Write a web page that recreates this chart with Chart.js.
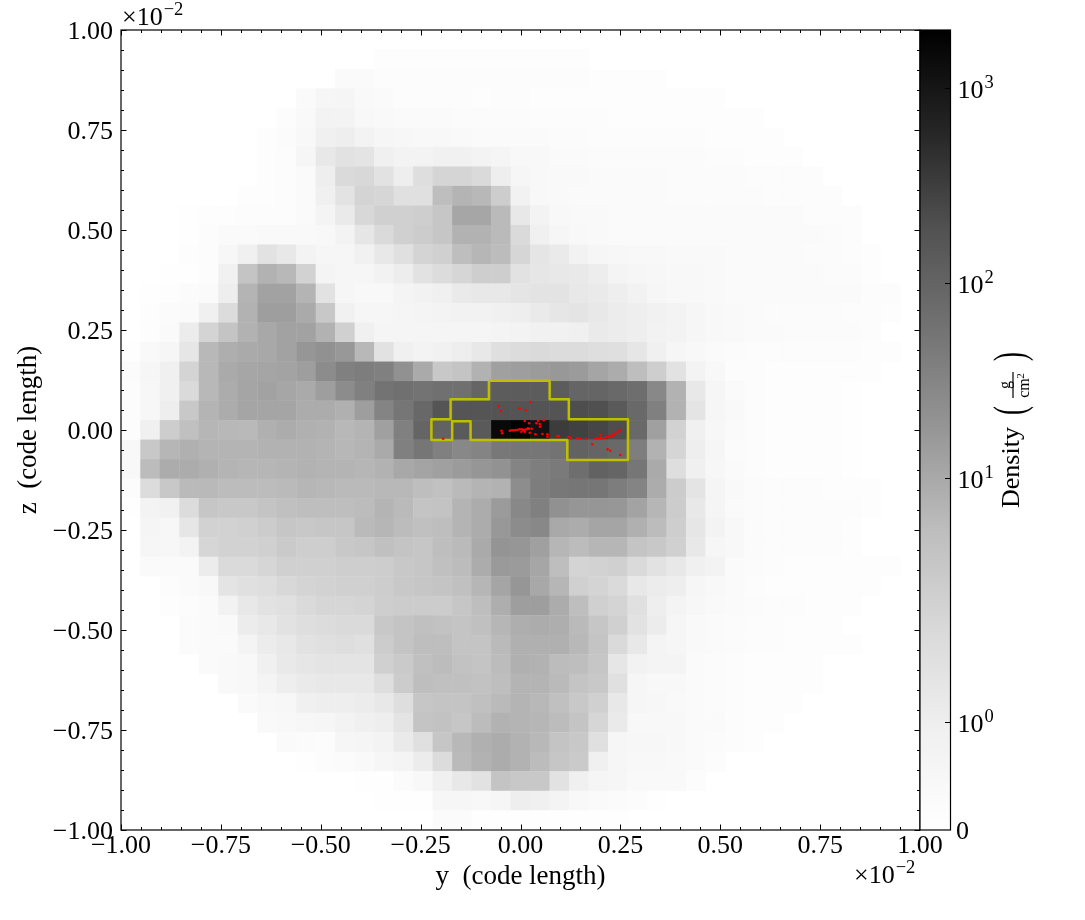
<!DOCTYPE html>
<html><head><meta charset="utf-8">
<script src="https://cdn.jsdelivr.net/npm/chart.js@4"></script>
<style>html,body{margin:0;padding:0;background:#fff}canvas{position:absolute;display:block}</style>
</head><body>
<canvas id="main" width="1085" height="920" style="left:0;top:0"></canvas>
<canvas id="bar" width="185" height="920" style="left:900px;top:0"></canvas>
<script>
const row00=[0,0,0,0,0,0,0,0,0,0, 0,0,0,0,0,0,0,0,0,0, 0,0,0,0,0,0,0,0,0,0, 0,0,0,0,0,0,0,0,0,0,0];
const row01=[0,0,0,0,0,0,0,0,0,0, 0,0,0,.12,.12,.12,.12,.12,.12,.12, .12,.12,.12,.12,0,0,0,0,0,0, 0,0,0,0,0,0,0,0,0,0,0];
const row02=[0,0,0,0,0,0,0,0,0,0, 0,.3,.3,.2,.2,.2,.2,.2,.2,.2, .2,.2,.2,.2,.15,.12,.12,.12,0,0, 0,0,0,0,0,0,0,0,0,0,0];
const row03=[0,0,0,0,0,0,0,0,0,.3, .56,.62,.37,.31,.2,.2,.2,.2,.15,.2, .2,.12,.12,.12,.12,.12,.12,.12,.12,.12, .12,0,0,0,0,0,0,0,0,0,0];
const row04=[0,0,0,0,0,0,0,0,.19,.4, .74,.74,.43,.37,.31,.31,.31,.25,.25,.25, .25,.2,.2,.2,.2,.15,.15,.15,.15,.15, .12,.12,.12,0,0,0,0,0,0,0,0];
const row05=[0,0,0,0,0,0,0,.12,.25,.43, .93,1,.74,.56,.5,.43,.43,.37,.31,.31, .31,.31,.25,.25,.2,.2,.2,.2,.2,.2, .15,.15,.15,.15,0,0,0,0,0,0,0];
const row06=[0,0,0,0,0,0,0,.12,.19,.56, 1.25,1.49,1.41,.93,.74,.74,.86,.86,.74,.62, .43,.43,.31,.31,.25,.25,.25,.25,.25,.25, .2,.2,.15,.15,.15,0,0,0,0,0,0];
const row07=[0,0,0,0,0,0,0,.12,.19,.31, 1,1.81,1.89,1.49,1,1.65,2,2,1.81,1, .56,.43,.37,.37,.31,.31,.31,.31,.25,.25, .25,.25,.19,.19,.19,.19,0,0,0,0,0];
const row08=[0,0,0,0,0,0,.12,.12,.19,.31, .93,1.45,2.04,1.95,1.57,1.57,5.2,7.1,6.3,2.8, .8,.43,.37,.31,.31,.31,.31,.31,.25,.25, .25,.25,.25,.19,.19,.19,.19,0,0,0,0];
const row09=[0,0,0,.06,.12,.12,.19,.19,.19,.31, .68,1.17,1.89,2.4,2.4,2.6,3.7,10.8,10.8,5.9, 1.25,.74,.43,.4,.37,.31,.31,.31,.31,.31, .31,.31,.3,.3,.3,.2,.2,.2,0,0,0];
const row10=[0,0,0,.06,.19,.31,.31,.37,.37,.37, .43,.74,1.33,1.81,2.4,2.87,3.7,7.5,7.5,5.9, 1.8,.93,.56,.43,.37,.31,.31,.31,.31,.31, .31,.31,.3,.3,.3,.3,.25,.2,0,0,0];
const row11=[0,0,0,.12,.19,.5,.93,1.49,1.25,.74, .56,.56,.86,1.25,1.57,2.04,2.4,5.2,6.6,5.5, 1.95,1.37,1.17,.8,.56,.5,.43,.43,.37,.37, .37,.31,.31,.31,.31,.25,.25,.19,.15,0,0];
const row12=[0,0,.06,.06,.19,.86,4.03,7.5,6.27,2.2, .68,.56,.56,.8,1.05,1.49,1.73,1.95,2.63,2.63, 1.49,1.33,1.25,1.2,1.05,.68,.56,.5,.43,.43, .37,.31,.31,.31,.31,.31,.25,.25,.15,0,0];
const row13=[0,.06,.12,.25,.31,1,7.1,12.3,12.3,7.1, 1.49,.56,.43,.43,.68,.8,.93,1.17,1.25,1.25, 1.37,1.45,1.45,1.25,1.15,1,.8,.56,.43,.43, .37,.31,.31,.31,.31,.31,.31,.31,.19,.19,0];
const row14=[0,.12,.25,.31,.93,1.73,7.5,13.7,13.7,9.6, 3.4,.86,.56,.56,.62,.68,.74,.8,.8,.93, 1,1.17,1.33,1.41,1.25,1.09,1,.86,.74,.56, .43,.37,.31,.25,.25,.25,.25,.19,.19,.12,0];
const row15=[0,.12,.31,1.09,2.04,4.03,7.5,10.2,12.3,12.3, 7.5,2.42,.93,.62,.62,.62,.62,.62,.62,.68, .74,.86,.86,.93,1.17,1.09,1,.8,.74,.56, .43,.37,.31,.31,.25,.25,.25,.25,.19,0,0];
const row16=[.06,.37,.56,1.33,6.27,8.5,9.6,10.2,12.3,17.6, 21,16.4,6.27,1.49,.93,.74,.86,1,1.25,1.6, 1.73,1.81,1.73,1.73,1.65,1.6,1.33,.93,.56,.43, .31,.25,.19,.19,.19,.19,.19,.19,.12,.12,0];
const row17=[.25,.56,.93,2.04,6.27,9.6,10.8,11,12,13.7, 24.7,37,40.7,37,20.8,9.6,3.4,4.03,7.5,13, 13.7,15.1,16.4,15.1,11,9.1,5.2,2.6,1.49,.74, .43,.19,.19,.15,.15,.15,.15,.15,.12,0,0];
const row18=[.19,.5,.93,1.81,6.27,9.1,11,12.3,10.8,9.6, 13.7,24.7,37,57,63,57,63,63,96,130, 130,130,130,96,96,82,68,28,7.5,1.25, .56,.31,.19,.15,.15,.12,.1,.06,0,0,0];
const row19=[.19,.5,1,3.4,7.1,9.1,11,11,11,9.1, 9.1,8,13.7,32,51,85,168,168,168,173, 173,173,173,207,197,140,82,37,7.5,1.4, .56,.37,.19,.15,.15,.12,.1,.06,0,0,0];
const row20=[.19,.93,2.8,4.8,6.6,6.3,6,8,9.1,8, 7.5,6.3,7.1,13,37,96,105,140,140,1500, 1880,1110,332,290,255,207,82,13,2.2,.93, .5,.31,.19,.15,.15,.12,.1,.06,0,0,0];
const row21=[.43,3.4,6.6,8,7.1,7.1,7.1,7.5,7.5,7.5, 7.1,6.5,7.1,9.6,37,51,37,28,32,48, 51,51,57,105,96,82,40,7.5,2,1, .56,.25,.19,.15,.15,.12,.1,.06,0,0,0];
const row22=[.43,5.5,9.1,9.1,8,7.1,6.6,6.6,7.1,7.5, 7.1,7.1,6.6,7.5,10.2,11.5,13,15,17.6,20, 32,40,45,68,105,96,51,9.6,1.65,.93, .5,.31,.19,.15,.15,.15,.12,.06,0,0,0];
const row23=[.19,1.73,3.4,5.9,6,5.5,5.5,5.5,5.9,6.6, 6.3,5.9,5.9,6.3,6.3,5.2,4.6,5.9,7.1,7.5, 24,41,48,51,51,41,32,9.1,2.87,1.41, .62,.37,.25,.2,.2,.2,.15,.15,.12,0,0];
const row24=[.06,.74,.86,1.73,3.7,3.4,3.4,4.03,4.77,5.2, 5.2,5.2,5.55,7.1,5.9,4.03,4.2,7.1,9.1,15, 28,37,20.8,17.6,17.6,17,12,6.6,2.87,1.25, .62,.31,.25,.19,.19,.19,.19,.19,.12,0,0];
const row25=[0,.62,.5,1.33,2.2,2.2,2.42,2.87,3.7,3.4, 3.7,3.7,5.9,6.6,5.5,4.77,5.2,7.1,9.1,16.4, 24.7,28,10,9.1,11,11,8,5.5,2.6,1.33, .74,.43,.25,.19,.19,.19,.19,.12,0,0,0];
const row26=[0,.56,.5,.74,1.95,2.2,2.2,2.42,3.1,2.63, 2.63,3.4,3.7,4.77,4,3.7,5.2,5.9,9.6,18.8, 17.6,13,6.6,5.55,6.6,6.6,4,3.4,2.42,1.25, .56,.43,.25,.19,.19,.19,.19,.12,0,0,0];
const row27=[0,.31,.31,.31,1.09,1.81,1.81,1.95,2.42,2.42, 2.42,2.63,2.63,2.75,3.4,3.7,4.77,5.55,9.1,15.5, 15,10.8,5.2,2.04,2.2,2.42,1.81,1.49,1.25,.93, .74,.31,.25,.19,.12,.12,.12,.12,.1,.1,0];
const row28=[0,0,.19,.31,.43,1.41,1.57,1.65,1.89,2.04, 2.2,2.42,2.42,2.75,3.4,3.7,4,4.77,6.6,11, 17.6,10.2,6.6,2.42,2.04,1.81,1.25,1.1,1,.56, .43,.31,.19,.15,.15,.12,.12,.12,.12,0,0];
const row29=[0,0,.12,.19,.31,.8,1.25,1.49,1.57,1.81, 1.95,1.95,2.04,2.63,2.87,2.87,2.87,3.7,5.2,8.5, 13.7,13.7,9.1,5.2,2.42,2.04,1.57,1,.68,.5, .37,.31,.25,.19,.19,.15,.12,.12,0,0,0];
const row30=[0,0,0,.25,.31,.37,1.09,1.25,1.49,1.65, 1.73,1.81,1.81,3.4,4,4.77,4.4,4,4.77,6.6, 8.5,9.1,8.5,5.93,3.7,2.42,1.49,1.09,.56,.37, .31,.25,.2,.19,.15,.12,.1,0,0,0,0];
const row31=[0,0,0,.25,.31,.31,.68,1.09,1.25,1.49, 1.57,1.65,1.57,2.87,4,5.2,5.2,4,4,5.9, 8,8,8,6.3,4,1.81,1.25,.68,.56,.37, .31,.25,.19,.19,.15,.15,.15,.1,0,0,0];
const row32=[0,0,0,0,.31,.37,.43,.93,1.2,1.33, 1.41,1.41,1.41,2.42,3.1,4.77,5.55,4.38,4,5.55, 8,7.5,5.55,5.2,3.7,1.33,.8,.68,.68,.31, .25,.19,.15,.15,.12,.12,0,0,0,0,0];
const row33=[0,0,0,0,0,.37,.43,.68,1,1.17, 1.25,1.25,1.25,1.65,2.87,5.2,4.77,4.77,4.38,5.2, 7.1,7.1,5.93,4,3.4,1.57,.56,.43,.43,.31, .25,.19,.15,.15,.12,.12,0,0,0,0,0];
const row34=[0,0,0,0,0,0,.31,.43,.5,.93, 1,1,1.09,1.25,1.65,3.7,4,4,4.77,5.9, 7.1,6.3,4.77,3.4,2.42,1.25,.56,.5,.37,.31, .25,.19,.15,.15,.12,0,0,0,0,0,0];
const row35=[0,0,0,0,0,0,0,.37,.43,.5, .56,.74,.93,1,1.41,4,4.38,3.7,5.55,7.5, 7.1,6.6,5.55,4,1.95,1.17,.43,.43,.43,.31, .31,.19,.15,.12,0,0,0,0,0,0,0];
const row36=[0,0,0,0,0,0,0,0,.31,.25, .19,.56,.62,.74,1.17,1.57,3.7,6.27,8,9.1, 7.5,6.3,4,3.4,1.57,.56,.5,.5,.43,.31, .25,.19,.12,0,0,0,0,0,0,0,0];
const row37=[0,0,0,0,0,0,0,0,0,.06, .19,.25,.37,.56,.68,1.09,1.73,5.9,7.5,9.1, 7.5,5.55,3.7,3.1,.93,.56,.43,.43,.37,.31, .19,0,0,0,0,0,0,0,0,0,0];
const row38=[0,0,0,0,0,0,0,0,0,0, 0,0,.06,.06,.25,.43,.93,1.25,1.49,4, 3.4,3.4,1.49,.93,.62,.56,.37,.37,.37,.19, 0,0,0,0,0,0,0,0,0,0,0];
const row39=[0,0,0,0,0,0,0,0,0,0, 0,0,0,.06,.06,.06,.56,.56,.43,.56, 1,.93,.68,.43,.31,.25,.19,.06,0,0, 0,0,0,0,0,0,0,0,0,0,0];
const row40=[0,0,0,0,0,0,0,0,0,0, 0,0,0,0,0,0,.25,.25,.06,.06, .06,.06,.06,.06,.06,.06,0,0,0,0, 0,0,0,0,0,0,0,0,0,0,0];
const densityRows=[row00,row01,row02,row03,row04,row05,row06,row07,row08,row09,row10,row11,row12,row13,row14,row15,row16,row17,row18,row19,row20,row21,row22,row23,row24,row25,row26,row27,row28,row29,row30,row31,row32,row33,row34,row35,row36,row37,row38,row39,row40];

const contourY=[-.079,.073,.073,.121,.121,.269,.269,.117,.117,-.125,-.125,-.171,-.171,-.223,-.223,-.175,-.175,-.079,-.079];
const contourZ=[.123,.123,.077,.077,.027,.027,-.075,-.075,-.025,-.025,.022,.022,-.025,-.025,.027,.027,.077,.077,.123];

const particleY=[-.0544,-.0486,-.0019,.0131,.0256,.0106,.0214,.0398,.0481,.0439,.0581,.0489,-.0477,-.0461,.0189,.0106,.0023,.0231,.0373,.0548,.0673,.0673,.0923,.0964,.1198,.1256,.1423,.1498,.1648,.1798,.2181,.2248,.2498,.1998,.2314,-.1936,
 -.0269,-.0219,-.0169,-.0119,-.0069,-.0019,.0031,.0064,.0114,.0164,.0214,.0281,
 .1881,.1948,.2014,.2081,.2148,.2214,.2273,.2331,.2381,.2431,.2481];
const particleZ=[.06,.0475,.0542,.05,.07,.0225,.0167,.0167,.015,.0233,.0242,.0083,-.0017,-.0083,.0042,-.0042,-.0042,-.0067,-.0108,-.01,-.0108,-.0167,-.015,-.015,-.0175,-.0192,-.0208,-.0217,-.0217,-.0358,-.0483,-.0517,-.0625,-.0133,-.015,-.0217,
 -.0017,-.0008,-.0008,0,.0008,.0017,.0017,0,.0008,.0017,.0025,.0033,
 -.0208,-.0208,-.0204,-.02,-.0183,-.0167,-.0142,-.0117,-.0083,-.0042,0];

const majorTicks=[-1,-.75,-.5,-.25,0,.25,.5,.75,1];
const minorTicks=[-.95,-.9,-.85,-.8,-.7,-.65,-.6,-.55,-.45,-.4,-.35,-.3,-.2,-.15,-.1,-.05,.05,.1,.15,.2,.3,.35,.4,.45,.55,.6,.65,.7,.8,.85,.9,.95];
const barTicks=[0,1,10,100,1000];
const barTickExponents=[null,'0','1','2','3'];
const densityMax=1977;
const linThresh=2;
const linPixelsFrac=.27;
const decadeFrac=.24375;
const greysPos=[0,.125,.25,.375,.5,.625,.75,.875,1];
const greysLevel=[255,240,217,189,150,115,82,37,0];

const SERIF='"Liberation Serif","Times New Roman",serif';
function norm(v){return v<=linThresh?v/linThresh*linPixelsFrac:linPixelsFrac+decadeFrac*Math.log10(v/linThresh);}
function grey(p){
  p=Math.max(0,Math.min(1,p));
  for(let i=1;i<greysPos.length;i++){ if(p<=greysPos[i]){
    const t=(p-greysPos[i-1])/(greysPos[i]-greysPos[i-1]);
    const g=Math.round(greysLevel[i-1]+t*(greysLevel[i]-greysLevel[i-1]));
    return `rgb(${g},${g},${g})`; } }
  return 'rgb(0,0,0)';
}
const N=densityRows.length;
const cells=[];
densityRows.forEach((row,r)=>row.forEach((v,c)=>{ if(v>0) cells.push({x:-1+(c+.5)*2/N,y:1-(r+.5)*2/N,v}); }));

function sci(ctx,x,base,baseText,exp,fs,es,rise){
  ctx.font=`${fs}px ${SERIF}`; ctx.textBaseline='alphabetic'; ctx.textAlign='left';
  ctx.fillText(baseText,x,base);
  const w=ctx.measureText(baseText).width;
  ctx.font=`${es}px ${SERIF}`;
  ctx.fillText(exp,x+w+1,base-rise);
}
const framePlugin={id:'frame',afterDraw(chart){
  const {ctx,chartArea:a,scales:{x,y}}=chart;
  ctx.save(); ctx.strokeStyle='#000'; ctx.fillStyle='#000'; ctx.lineWidth=1;
  const tick=(list,len)=>{ list.forEach(v=>{
    const px=Math.round(x.getPixelForValue(v))+.5, py=Math.round(y.getPixelForValue(v))+.5;
    ctx.beginPath();
    ctx.moveTo(px,a.bottom);ctx.lineTo(px,a.bottom-len);
    ctx.moveTo(px,a.top);ctx.lineTo(px,a.top+len);
    ctx.moveTo(a.left,py);ctx.lineTo(a.left+len,py);
    ctx.moveTo(a.right,py);ctx.lineTo(a.right-len,py);
    ctx.stroke(); }); };
  tick(majorTicks,5.5); tick(minorTicks,3);
  ctx.lineWidth=1.2;
  ctx.strokeRect(a.left,a.top,a.right-a.left,a.bottom-a.top);
  sci(ctx,122,25,'\u00d710','\u22122',26,18.5,10);
  sci(ctx,854,883,'\u00d710','\u22122',26,18.5,10);
  ctx.restore();
}};
new Chart(document.getElementById('main'),{
  type:'scatter',
  data:{datasets:[
    {label:'particles',order:0,data:particleY.map((v,i)=>({x:v,y:particleZ[i]})),pointRadius:1.3,pointHoverRadius:1.3,pointBorderWidth:0,pointBackgroundColor:'#ff0000'},
    {label:'contour',order:1,data:contourY.map((v,i)=>({x:v,y:contourZ[i]})),showLine:true,pointRadius:0,borderColor:'#bfbf00',borderWidth:2.5,tension:0,borderJoinStyle:'round'},
    {label:'Density',order:2,data:cells,pointStyle:'rect',pointBorderWidth:0,
      pointRadius:c=>{const a=c.chart.chartArea;return a?((a.right-a.left)/N+.4)/Math.SQRT2:14;},
      pointBackgroundColor:c=>c.raw?grey(norm(c.raw.v)):'#fff'}
  ]},
  options:{responsive:false,animation:false,devicePixelRatio:1,
    layout:{padding:{left:0,top:30,right:165,bottom:27}},
    plugins:{legend:{display:false},tooltip:{enabled:false}},
    scales:{
      x:{type:'linear',min:-1,max:1,afterFit:s=>{s.height=63;},
        afterBuildTicks:s=>{s.ticks=majorTicks.map(v=>({value:v}));},
        grid:{display:false,drawTicks:false},border:{display:false},
        ticks:{autoSkip:false,maxRotation:0,padding:1,color:'#000',font:{family:SERIF,size:26},callback:v=>(v<0?'\u2212':'')+Math.abs(v).toFixed(2)},
        title:{display:true,text:'y\u00a0\u00a0(code length)',color:'#000',font:{family:SERIF,size:27},padding:{top:0,bottom:0}}},
      y:{type:'linear',min:-1,max:1,afterFit:s=>{s.width=121;},
        afterBuildTicks:s=>{s.ticks=majorTicks.map(v=>({value:v}));},
        grid:{display:false,drawTicks:false},border:{display:false},
        ticks:{autoSkip:false,padding:8,labelOffset:2,color:'#000',font:{family:SERIF,size:26},callback:v=>(v<0?'\u2212':'')+Math.abs(v).toFixed(2)},
        title:{display:true,text:'z\u00a0\u00a0(code length)',color:'#000',font:{family:SERIF,size:27},padding:{top:13,bottom:0}}}
    }},
  plugins:[framePlugin]
});

class SymLogScale extends Chart.LinearScale{
  getPixelForValue(v){return this.bottom-norm(v)*(this.bottom-this.top);}
}
SymLogScale.id='symlog';
SymLogScale.defaults=Chart.LinearScale.defaults;
Chart.register(SymLogScale);
const barPlugin={id:'barFrame',afterDraw(chart){
  const {ctx,chartArea:a,scales:{y}}=chart;
  ctx.save(); ctx.strokeStyle='#000'; ctx.fillStyle='#000'; ctx.lineWidth=1;
  barTicks.forEach((v,i)=>{
    const py=Math.round(y.getPixelForValue(v))+.5;
    if(i>0){ctx.beginPath();ctx.moveTo(a.right,py);ctx.lineTo(a.right-5.5,py);ctx.stroke();
      sci(ctx,a.right+7,py+9,'10',barTickExponents[i],26,18.5,10);
    } else {
      ctx.font=`26px ${SERIF}`;ctx.textBaseline='alphabetic';ctx.textAlign='left';ctx.fillText('0',a.right+5.5,py+8);
    }
  });
  ctx.lineWidth=1.2;
  ctx.strokeRect(a.left,a.top,a.right-a.left,a.bottom-a.top);
  // colour bar label, rotated
  ctx.translate(119,430); ctx.rotate(-Math.PI/2);
  ctx.textAlign='left';ctx.textBaseline='alphabetic';
  ctx.font=`26px ${SERIF}`; ctx.fillText('Density',-78,0);
  ctx.font=`44px ${SERIF}`; ctx.save();ctx.scale(.6,1); ctx.fillText('(',25,5);ctx.fillText(')',115,5);ctx.restore();
  ctx.textAlign='center';
  ctx.font=`16px ${SERIF}`; ctx.fillText('g',45,-9);
  ctx.fillText('cm',42,10);
  ctx.font=`11px ${SERIF}`; ctx.fillText('2',54,5);
  ctx.beginPath();ctx.moveTo(32,-6);ctx.lineTo(58,-6);ctx.stroke();
  ctx.restore();
}};
new Chart(document.getElementById('bar'),{
  type:'bar',
  data:{labels:['Density'],datasets:[{data:[[0,densityMax]],barPercentage:1,categoryPercentage:1,borderWidth:0,
    backgroundColor:c=>{
      const a=c.chart.chartArea; if(!a) return '#888';
      const g=c.chart.ctx.createLinearGradient(0,a.bottom,0,a.top);
      greysPos.forEach(p=>g.addColorStop(p,grey(p)));
      return g;
    }}]},
  options:{responsive:false,animation:false,devicePixelRatio:1,
    layout:{padding:{left:20,top:30,right:0,bottom:90}},
    plugins:{legend:{display:false},tooltip:{enabled:false}},
    scales:{
      x:{display:false},
      y:{type:'symlog',position:'right',min:0,max:densityMax,afterFit:s=>{s.width=134.5;},
        afterBuildTicks:s=>{s.ticks=barTicks.map(v=>({value:v}));},
        grid:{display:false},border:{display:false},ticks:{display:false}}
    }},
  plugins:[barPlugin]
});
</script>
</body></html>
